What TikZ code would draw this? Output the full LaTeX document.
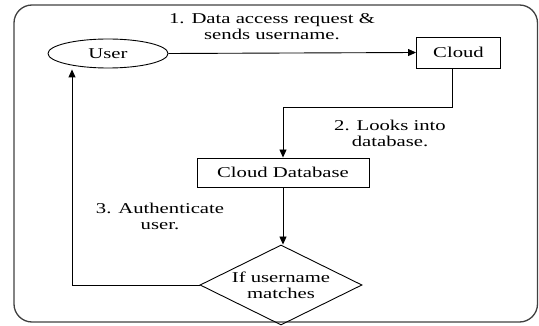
\documentclass[tikz,border=0pt]{standalone}
\usepackage{fontspec}
\setmainfont{Liberation Serif}[FakeStretch=1.38]
\usetikzlibrary{shapes.geometric,arrows.meta}
\begin{document}
\begin{tikzpicture}[x=1pt,y=1pt,
  every node/.style={font=\fontsize{15}{16}\selectfont, text=black},
  box/.style={draw, line width=0.9pt, inner sep=0pt},
  lbl/.style={align=center, inner sep=0pt},
  conn/.style={line width=0.9pt},
  arr/.style={conn, -{Triangle[length=8pt,width=7pt]}}]
\useasboundingbox (0,0) rectangle (539,-326);
\draw[line width=1.3pt, draw=black!75, rounded corners=18pt] (14,-5) rectangle (537.5,-322);
\node[box, ellipse, minimum width=120pt, minimum height=29pt] (user) at (108,-53.5) {User};
\node[box, rectangle, minimum width=84pt, minimum height=31pt] (cloud) at (458.5,-52.5) {Cloud};
\node[box, rectangle, minimum width=172pt, minimum height=29pt] (db) at (283,-172.5) {Cloud Database};
\node[box, diamond, minimum width=162pt, minimum height=80pt, aspect=2, align=center] (dia) at (281,-285) {If username\\matches};
\node[lbl] (l1) at (272,-27) {1. Data access request \&\\sends username.};
\node[lbl] (l2) at (390,-133) {2. Looks into\\database.};
\node[lbl] (l3) at (160,-216) {3. Authenticate\\user.};
\draw[arr] (user.east) -- (cloud.west);
\coordinate (c1) at (452,-107);
\draw[arr] ([xshift=-6.5pt]cloud.south) -- (c1) -- (c1 -| db.north) -- (db.north);
\draw[arr] (db.south) -- (db.south |- dia.north);
\coordinate (c3) at (72,-284);
\draw[arr] (dia.west) -- (c3 |- dia.west) -- ([yshift=-1pt]c3 |- user.south);
\end{tikzpicture}
\end{document}
